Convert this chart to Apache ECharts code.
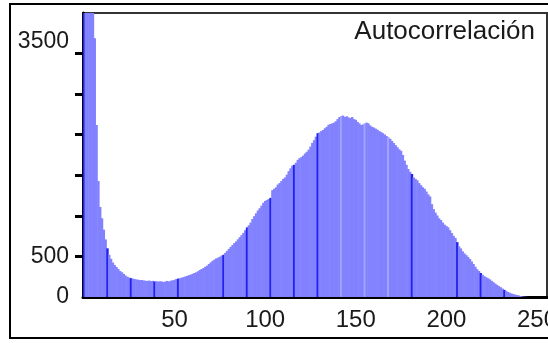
<!DOCTYPE html>
<html>
<head>
<meta charset="utf-8">
<script src="https://cdn.jsdelivr.net/npm/echarts@6/dist/echarts.min.js"></script>
<style>
html, body { margin: 0; padding: 0; background: #fff; }
#chart { width: 548px; height: 343px; }
</style>
</head>
<body>
<div id="chart"></div>
<script>
// Histogram counts for grey levels 0..255
const counts = [
  8500, 7100, 6000, 5000, 4300, 3800, 3190, 2120, 1430, 1110,
  970, 830, 710, 600, 520, 470, 425, 395, 370, 345,
  320, 305, 285, 265, 250, 240, 232, 227, 221, 217,
  213, 208, 210, 204, 201, 198, 203, 196, 199, 192,
  196, 189, 194, 191, 185, 192, 198, 191, 201, 206,
  212, 222, 227, 232, 239, 246, 253, 260, 270, 276,
  286, 296, 305, 317, 333, 345, 357, 373, 386, 407,
  426, 446, 461, 475, 485, 496, 510, 520, 544, 568,
  593, 617, 641, 664, 685, 711, 737, 763, 790, 823,
  858, 884, 918, 962, 996, 1031, 1066, 1094, 1126, 1161,
  1183, 1196, 1209, 1222, 1317, 1334, 1352, 1386, 1404, 1430,
  1456, 1473, 1508, 1551, 1586, 1620, 1629, 1655, 1690, 1711,
  1724, 1742, 1768, 1789, 1815, 1854, 1898, 1932, 1976, 2019,
  2028, 2045, 2058, 2080, 2097, 2123, 2132, 2140, 2149, 2166,
  2192, 2218, 2231, 2236, 2218, 2227, 2214, 2205, 2218, 2192,
  2184, 2158, 2140, 2119, 2127, 2140, 2149, 2140, 2114, 2097,
  2088, 2075, 2062, 2045, 2032, 2019, 2002, 1984, 1971, 1950,
  1924, 1898, 1872, 1846, 1820, 1802, 1750, 1681, 1629, 1577,
  1542, 1516, 1473, 1456, 1438, 1404, 1378, 1352, 1334, 1300,
  1265, 1239, 1144, 1083, 1040, 1005, 970, 949, 918, 892,
  875, 858, 823, 789, 754, 728, 676, 624, 598, 563,
  537, 516, 494, 468, 438, 407, 373, 342, 321, 295,
  273, 256, 243, 232, 217, 199, 182, 165, 149, 134,
  120, 104, 88, 75, 62, 52, 43, 36, 29, 24,
  19, 12, 7, 3, 2, 0, 0, 0, 0, 0,
  0, 0, 0, 0, 0, 0
];

// Bin labels (grey level of each bar)
const bins = counts.map((_, i) => String(i));

// Labelled grey levels on the x axis
const xTickLabels = ['50', '100', '150', '200', '250'];

// Y axis: tick marks and labelled values
const yMax = 3500;
const yTickValues = [500, 1000, 1500, 2000, 2500, 3000];
const yLabelValues = [0, 500, 3500];

const chartTitle = 'Autocorrelación';

const FONT = 'Liberation Sans, Arial, sans-serif';

// Fill colour of each bar; every ~13th bar is drawn as a darker rule line
function barShade(i) {
  const k = Math.round(i / 12.9);
  if (Math.abs(k * 12.9 - i) < 0.5) {
    return (i > 135 && i < 175) ? '#a3a3ff' : '#2222ee';
  }
  return '#8282ff';
}

function renderBar(params, api) {
  const i = api.value(0);
  const v = api.value(1);
  const top = api.coord([i, v]);
  const base = api.coord([i, 0]);
  const w = api.size([1, 0])[0];
  const cs = params.coordSys;
  const rect = echarts.graphic.clipRectByRect(
    { x: top[0] - w / 2 - 0.3, y: top[1], width: w + 0.6, height: base[1] - top[1] },
    { x: cs.x, y: cs.y, width: cs.width, height: cs.height }
  );
  if (!rect) return null;
  return { type: 'rect', shape: rect, style: { fill: barShade(i) } };
}

const showX = (idx) => xTickLabels.indexOf(bins[idx]) >= 0;

const chart = echarts.init(document.getElementById('chart'), null, { renderer: 'canvas' });

chart.setOption({
  animation: false,
  backgroundColor: '#ffffff',
  title: {
    text: chartTitle,
    right: 8,
    top: 14,
    textStyle: { fontFamily: FONT, fontSize: 26, fontWeight: 'normal', color: '#1a1a1a' }
  },
  graphic: [{
    type: 'rect',
    silent: true,
    z: -1,
    shape: { x: 10, y: 4, width: 600, height: 334 },
    style: { fill: 'none', stroke: '#000', lineWidth: 2 }
  }],
  grid: {
    left: 83, top: 13, right: 1, bottom: 46,
    containLabel: false,
    outerBoundsMode: 'none',
    show: true, borderColor: '#333', borderWidth: 2
  },
  xAxis: {
    type: 'category',
    data: bins,
    boundaryGap: true,
    axisLine: { lineStyle: { color: '#000', width: 3 } },
    axisTick: {
      interval: (idx) => showX(idx),
      alignWithLabel: true,
      length: 5,
      lineStyle: { color: '#000', width: 3 }
    },
    axisLabel: {
      interval: (idx) => showX(idx),
      hideOverlap: false,
      fontFamily: FONT, fontSize: 24, color: '#1a1a1a', margin: 11
    },
    splitLine: { show: false }
  },
  yAxis: {
    type: 'value',
    min: 0,
    max: yMax,
    axisLine: { show: true, lineStyle: { color: '#000', width: 3 } },
    axisTick: {
      show: true,
      customValues: yTickValues,
      length: 8,
      lineStyle: { color: '#000', width: 3 }
    },
    axisLabel: {
      customValues: yLabelValues,
      fontFamily: FONT, fontSize: 23, color: '#1a1a1a', margin: 14,
      formatter: (v) => v === yMax ? '{top|' + v + '}' : String(v),
      rich: { top: { fontFamily: FONT, fontSize: 23, color: '#1a1a1a', padding: [58, 0, 0, 0] } }
    },
    splitLine: { show: false }
  },
  series: [{
    type: 'custom',
    renderItem: renderBar,
    data: counts.map((v, i) => [i, v]),
    encode: { x: 0, y: 1 }
  }]
});
</script>
</body>
</html>
